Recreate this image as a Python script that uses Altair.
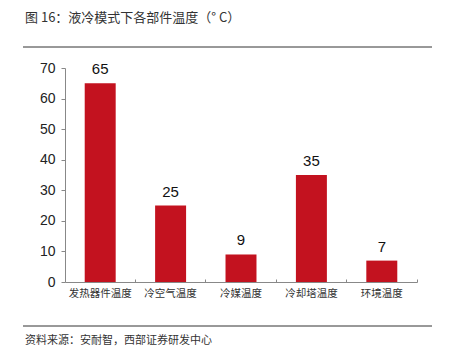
import altair as alt
import pandas as pd

categories = ["发热器件温度", "冷空气温度", "冷媒温度", "冷却塔温度", "环境温度"]
values = [65, 25, 9, 35, 7]
title_text = "图 16：液冷模式下各部件温度（° C）"
source_text = "资料来源：安耐智，西部证券研发中心"

df = pd.DataFrame({"cat": categories, "val": values})

W, H = 352, 214
CJK = "Noto Sans CJK SC"
NUM = "Liberation Sans"
PI, PO = 0.56, 0.28

xenc = alt.X("cat:N", sort=categories, scale=alt.Scale(paddingInner=PI, paddingOuter=PO),
             axis=alt.Axis(title=None, labelAngle=0, labelFont=CJK, labelFontSize=10.5,
                           labelColor="#333333", ticks=False, domainColor="#888888",
                           labelPadding=6))
yaxis = alt.Axis(title=None, values=list(range(0, 71, 10)), grid=False, labelOverlap=False,
                 labelFont=NUM, labelFontSize=14, labelColor="#222222",
                 domainColor="#888888", tickColor="#888888", tickSize=4,
                 labelPadding=6)
yenc = alt.Y("val:Q", scale=alt.Scale(domain=[0, 70], nice=False), axis=yaxis)

bars = alt.Chart(df).mark_bar(color="#C3121F").encode(x=xenc, y=yenc)

bp = 1 + (PI / 2) / (1 - PI)
labels = alt.Chart(df).mark_text(dy=-14, font=NUM, fontSize=15, color="#111111").encode(
    x=alt.X("cat:N", sort=categories,
            axis=alt.Axis(orient="top", offset=-H, labels=False, domain=False,
                          bandPosition=bp, tickSize=3, tickColor="#888888", title=None)),
    y=alt.Y("val:Q", axis=yaxis),
    text="val:Q",
)

deco_title = alt.Chart(pd.DataFrame({"t": [title_text]})).mark_text(
    align="left", baseline="middle", font=CJK, fontSize=13, color="#333333"
).encode(x=alt.value(-40), y=alt.value(-50), text="t:N")

deco_src = alt.Chart(pd.DataFrame({"t": [source_text]})).mark_text(
    align="left", baseline="middle", font=CJK, fontSize=11, color="#333333"
).encode(x=alt.value(-40), y=alt.value(273), text="t:N")

line_top = alt.Chart(pd.DataFrame({"a": [0]})).mark_rule(color="#333333", strokeWidth=1).encode(
    x=alt.value(-42), x2=alt.value(367), y=alt.value(-21))
line_bot = alt.Chart(pd.DataFrame({"a": [0]})).mark_rule(color="#333333", strokeWidth=1).encode(
    x=alt.value(-42), x2=alt.value(367), y=alt.value(258))

chart = alt.layer(bars, labels, deco_title, deco_src, line_top, line_bot).resolve_axis(
    x="independent"
).properties(
    width=W, height=H,
    autosize=alt.AutoSizeParams(type="none"),
    padding={"left": 57, "top": 60, "right": 24, "bottom": 67},
    background="white",
).configure_view(stroke=None)

chart.save("out.html", embed_options={"renderer": "svg", "actions": False})
